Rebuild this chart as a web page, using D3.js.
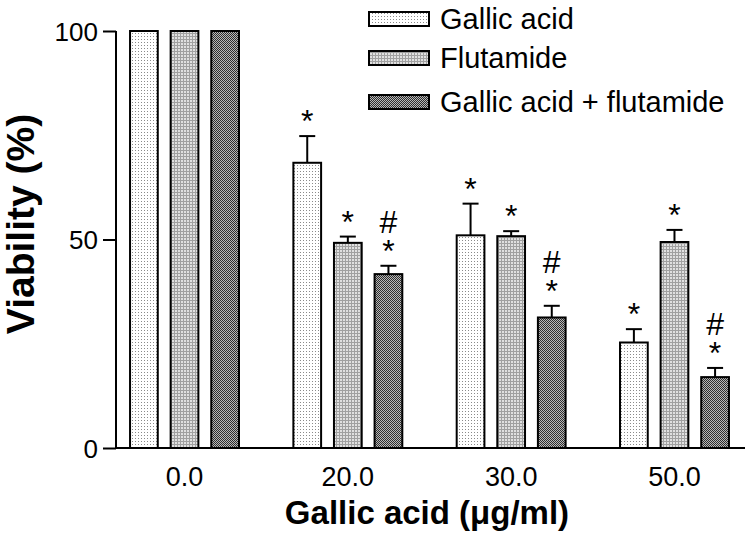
<!DOCTYPE html>
<html lang="en">
<head>
<meta charset="UTF-8">
<title>Viability</title>
<script src="https://d3js.org/d3.v7.min.js"></script>
<style>
  body { margin: 0; background: #fff; }
  text { font-family: "Liberation Sans", Arial, sans-serif; fill: #000; }
  .tick-label { font-size: 26px; }
  .xtick-label { font-size: 27px; }
  .axis-title { font-size: 33px; font-weight: bold; }
  .ytitle { font-size: 39px; }
  .legend-label { font-size: 29px; }
  .sig { font-size: 32px; }
</style>
</head>
<body>
<div id="chart"></div>
<script>
// data
const doses = ["0.0", "20.0", "30.0", "50.0"];
const seriesNames = ["Gallic acid", "Flutamide", "Gallic acid + flutamide"];
const gallicMean = [100, 68.4, 51.0, 25.3];
const gallicSd = [0, 6.4, 7.6, 3.2];
const flutMean = [100, 49.2, 50.8, 49.4];
const flutSd = [0, 1.5, 1.2, 2.9];
const comboMean = [100, 41.7, 31.3, 17.0];
const comboSd = [0, 2.0, 2.8, 2.2];
const gallicSig = [[], ["*"], ["*"], ["*"]];
const flutSig = [[], ["*"], ["*"], ["*"]];
const comboSig = [[], ["*", "#"], ["*", "#"], ["*", "#"]];
const yTicks = [0, 50, 100];

const means = [gallicMean, flutMean, comboMean];
const sds = [gallicSd, flutSd, comboSd];
const sigs = [gallicSig, flutSig, comboSig];
const fills = ["url(#pGallic)", "url(#pFlut)", "url(#pCombo)"];

const W = 751, H = 548;
const svg = d3.select("#chart").append("svg")
    .attr("width", W).attr("height", H);

// fill patterns
const defs = svg.append("defs");
const p1 = defs.append("pattern").attr("id", "pGallic")
    .attr("patternUnits", "userSpaceOnUse").attr("width", 3).attr("height", 3);
p1.append("rect").attr("width", 3).attr("height", 3).attr("fill", "#fff");
p1.append("rect").attr("width", 1).attr("height", 1).attr("fill", "#8a8a8a");

const p2 = defs.append("pattern").attr("id", "pFlut")
    .attr("patternUnits", "userSpaceOnUse").attr("width", 3).attr("height", 3);
p2.append("rect").attr("width", 3).attr("height", 3).attr("fill", "#e0e0e0");
p2.append("rect").attr("width", 3).attr("height", 1).attr("fill", "#a0a0a0");
p2.append("rect").attr("width", 1).attr("height", 3).attr("fill", "#a0a0a0");

const p3 = defs.append("pattern").attr("id", "pCombo")
    .attr("patternUnits", "userSpaceOnUse").attr("width", 2).attr("height", 2);
p3.append("rect").attr("width", 2).attr("height", 2).attr("fill", "#b8b8b8");
p3.append("rect").attr("width", 1).attr("height", 1).attr("fill", "#2e2e2e");
p3.append("rect").attr("x", 1).attr("y", 1).attr("width", 1).attr("height", 1).attr("fill", "#2e2e2e");

// scales
const y = d3.scaleLinear().domain([0, 100]).range([448, 31]);
const x0 = d3.scaleBand().domain(doses).range([116, 743])
    .paddingInner(0.333).paddingOuter(0.086);
const x1 = d3.scaleBand().domain(d3.range(3)).range([0, x0.bandwidth()])
    .paddingInner(0.317).paddingOuter(0);

// bars
const rows = [];
doses.forEach((d, i) => {
  for (let s = 0; s < 3; s++) {
    rows.push({dose: d, s: s, mean: means[s][i], sd: sds[s][i], sig: sigs[s][i]});
  }
});

const g = svg.append("g");
g.selectAll("rect.bar").data(rows).join("rect")
    .attr("class", "bar")
    .attr("x", d => x0(d.dose) + x1(d.s))
    .attr("y", d => y(d.mean))
    .attr("width", x1.bandwidth())
    .attr("height", d => y(0) - y(d.mean))
    .attr("fill", d => fills[d.s])
    .attr("stroke", "#000")
    .attr("stroke-width", 2);

// error bars (upper only)
const err = g.selectAll("g.err").data(rows.filter(d => d.sd > 0)).join("g")
    .attr("class", "err")
    .attr("transform", d => `translate(${x0(d.dose) + x1(d.s) + x1.bandwidth() / 2},0)`);
err.append("line")
    .attr("y1", d => y(d.mean)).attr("y2", d => y(d.mean + d.sd))
    .attr("stroke", "#000").attr("stroke-width", 2);
err.append("line")
    .attr("x1", -8).attr("x2", 8)
    .attr("y1", d => y(d.mean + d.sd)).attr("y2", d => y(d.mean + d.sd))
    .attr("stroke", "#000").attr("stroke-width", 2);

// significance marks, stacked above the error bar
const glyphDy = {"*": 18, "#": 11};
rows.forEach(d => {
  const cx = x0(d.dose) + x1(d.s) + x1.bandwidth() / 2;
  d.sig.forEach((m, k) => {
    const cy = y(d.mean + d.sd) - 22 - 22 * k;
    g.append("text").attr("class", "sig")
        .attr("x", cx).attr("y", cy + glyphDy[m])
        .attr("text-anchor", "middle")
        .text(m);
  });
});

// axes
const yAxis = svg.append("g").attr("transform", "translate(116,0)")
    .call(d3.axisLeft(y).tickValues(yTicks).tickSize(13).tickPadding(5));
yAxis.select(".domain").attr("stroke-width", 2).attr("d", `M0,${y(100)}V${y(0)}`);
yAxis.selectAll(".tick line").attr("stroke-width", 2);
yAxis.selectAll(".tick text").attr("class", "tick-label").attr("font-size", null)
    .attr("font-family", null).attr("dy", "0.36em");

const xAxis = svg.append("g").attr("transform", `translate(0,${y(0)})`)
    .call(d3.axisBottom(x0).tickSize(0).tickPadding(19));
xAxis.select(".domain").attr("stroke-width", 2).attr("d", "M116,0H745");
xAxis.selectAll(".tick text").attr("class", "xtick-label").attr("font-size", null)
    .attr("font-family", null);

// axis titles
svg.append("text").attr("class", "axis-title")
    .attr("x", 427).attr("y", 524)
    .attr("text-anchor", "middle")
    .text("Gallic acid (μg/ml)");

svg.append("text").attr("class", "axis-title ytitle")
    .attr("transform", "translate(34,224) rotate(-90)")
    .attr("text-anchor", "middle")
    .text("Viability (%)");

// legend
const legendY = [19, 58, 102];
const lg = svg.append("g").selectAll("g").data(seriesNames).join("g")
    .attr("transform", (d, i) => `translate(369,${legendY[i]})`);
lg.append("rect")
    .attr("x", 0).attr("y", -7).attr("width", 60).attr("height", 14)
    .attr("fill", (d, i) => fills[i])
    .attr("stroke", "#000").attr("stroke-width", 2);
lg.append("text").attr("class", "legend-label")
    .attr("x", 71).attr("y", 10)
    .text(d => d);
</script>
</body>
</html>
